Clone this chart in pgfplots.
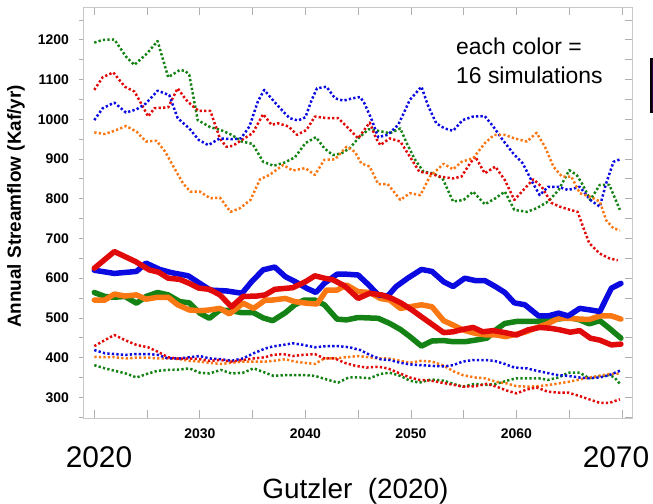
\documentclass[border=0pt]{standalone}
\usepackage{fontspec}
\setmainfont{Liberation Sans}
\usepackage{pgfplots}
\pgfplotsset{compat=1.18}
\definecolor{cblue}{RGB}{10,10,225}
\definecolor{cred}{RGB}{225,10,10}
\definecolor{cgreen}{RGB}{20,130,20}
\definecolor{corange}{RGB}{250,120,20}
\definecolor{framegray}{RGB}{200,200,200}
\definecolor{tickgray}{RGB}{175,175,175}
\definecolor{boxpurple}{RGB}{45,10,60}
\begin{document}
\begin{tikzpicture}
\useasboundingbox (-83bp,-86bp) rectangle (570bp,418bp);
\pgfplotsset{
  common/.style={
    scale only axis, width=549bp, height=410.7bp,
    at={(0,0)}, anchor=south west,
    xmin=2018.93, xmax=2070.95, ymin=248, ymax=1282,
    axis line style={framegray, line width=0.8bp},
    every tick/.style={tickgray, line width=0.8bp},
    /pgf/number format/1000 sep={},
    /pgf/number format/assume math mode=true,
    clip=false,
  },
  dotl/.style={line width=2.5bp, dash pattern=on 2.3bp off 2.2bp, line join=round},
  thk/.style={line width=5.5bp, line join=round, line cap=round},
}
\begin{axis}[common,
  xtick=\empty,
  ytick={300,400,...,1200}, minor ytick={250,350,...,1250},
  ytick pos=left, ytick align=outside,
  major tick length=4.5bp, minor tick length=4.5bp,
  tick label style={font=\fontsize{14}{14}\selectfont\bfseries},
  yticklabel style={xshift=-6bp},
]
\end{axis}
\begin{axis}[common,
  xtick=\empty,
  ytick={300,400,...,1200}, minor ytick={250,350,...,1250},
  yticklabels={}, ytick pos=right, ytick align=inside,
  major tick length=7bp, minor tick length=7bp,
]
\end{axis}
\begin{axis}[common,
  xtick={2020,2025,...,2070},
  xticklabels={,,2030,,2040,,2050,,2060,,},
  xtick pos=both, xtick align=inside, major tick length=8bp,
  ytick=\empty,
  tick label style={font=\fontsize{14}{14}\selectfont\bfseries},
  xticklabel style={yshift=-7bp},
]
% upper dotted
\addplot[dotl, cgreen] coordinates {(2020,1193)(2020.8,1200)(2021.9,1201)(2023,1158)(2023.8,1137)(2025,1166)(2026,1197)(2027,1106)(2028.1,1124)(2028.6,1122)(2029,1112)(2029.8,998)(2031,980)(2032,973)(2033,961)(2034,944)(2035,938)(2036,893)(2037,883)(2038,891)(2039,904)(2040,940)(2041,955)(2041.8,927)(2042.6,910)(2043.4,914)(2044.2,927)(2045,952)(2046,975)(2046.9,971)(2048,965)(2049,977)(2049.6,940)(2050.4,898)(2051.2,868)(2052.1,864)(2053,851)(2054,793)(2055,797)(2055.9,818)(2057,786)(2058,801)(2058.9,818)(2059.8,772)(2061,767)(2061.9,776)(2063,793)(2064,822)(2065,872)(2065.7,860)(2066.2,839)(2067,797)(2067.9,835)(2068.8,835)(2069.8,772)};
\addplot[dotl, cred] coordinates {(2020,1074)(2020.8,1106)(2021.8,1118)(2022.9,1082)(2023.8,1070)(2024.6,1032)(2025.1,1007)(2025.7,1028)(2027,1030)(2027.9,1078)(2028.7,1049)(2029.2,1036)(2029.9,1021)(2031,1021)(2031.9,952)(2032.5,931)(2033.1,933)(2034.1,950)(2035,965)(2036,1013)(2036.8,986)(2037.4,990)(2038.4,982)(2039.2,961)(2040.1,973)(2040.9,1007)(2042,1003)(2043.1,1003)(2044.1,977)(2045,952)(2046.1,992)(2046.7,952)(2047.1,935)(2048,952)(2049,944)(2049.9,906)(2050.8,868)(2051.8,864)(2052.7,856)(2054,851)(2054.8,856)(2055.6,889)(2056.1,906)(2057,864)(2058,881)(2058.9,847)(2059.8,797)(2060.8,826)(2061.6,849)(2062.4,830)(2063.3,790)(2064.1,780)(2065.1,772)(2065.8,767)(2066.3,730)(2066.9,688)(2067.9,662)(2068.8,650)(2069.6,645)};
\addplot[dotl, cblue] coordinates {(2020,998)(2020.8,1028)(2021.9,1042)(2023,1017)(2024,1025)(2024.9,1040)(2026,1072)(2027.1,1061)(2027.9,1003)(2029,977)(2029.9,948)(2030.8,935)(2031.9,952)(2033,950)(2033.9,952)(2034.7,982)(2035.5,1045)(2036.1,1074)(2036.9,1049)(2037.6,1028)(2038.5,1003)(2039.3,997)(2040,1005)(2040.6,1049)(2041.1,1078)(2042,1082)(2042.8,1053)(2043.6,1047)(2044.5,1053)(2045.2,1056)(2045.6,1040)(2046.3,998)(2046.9,955)(2047.8,961)(2048.8,986)(2049.9,1049)(2051,1082)(2051.6,1036)(2052.4,990)(2053.2,977)(2054,971)(2054.9,998)(2055.9,1007)(2057,1008)(2057.8,982)(2058.7,948)(2059.7,914)(2060.6,889)(2061.4,847)(2062.2,809)(2063,830)(2064,830)(2064.9,822)(2066,830)(2067,797)(2067.9,780)(2068.5,839)(2069.2,893)(2069.8,899)};
\addplot[dotl, corange] coordinates {(2020,967)(2021,963)(2021.9,971)(2023,983)(2024,969)(2024.9,944)(2025.9,946)(2026.7,919)(2027.5,881)(2028.4,839)(2029.1,818)(2030,818)(2031,801)(2031.9,803)(2032.9,767)(2033.8,776)(2034.8,797)(2035.7,849)(2036.6,860)(2037.9,885)(2038.8,871)(2040,877)(2040.9,860)(2041.8,898)(2042.8,899)(2043.9,931)(2044.7,918)(2045.3,889)(2046.1,881)(2046.9,837)(2047.8,837)(2049,797)(2049.9,814)(2050.9,809)(2051.8,856)(2053.1,888)(2054,874)(2054.8,893)(2055.9,902)(2057,940)(2057.9,961)(2058.9,961)(2059.8,952)(2061,944)(2061.9,966)(2062.7,931)(2063.5,881)(2064.3,856)(2065.2,856)(2066,814)(2067,805)(2067.9,793)(2068.5,746)(2069.2,725)(2069.8,721)};
% lower dotted
\addplot[dotl, cgreen] coordinates {(2020,381)(2021,373)(2021.9,367)(2023,360)(2024,350)(2025.1,360)(2026,367)(2027,369)(2028.1,370)(2029,373)(2030,362)(2030.9,360)(2032,369)(2033,360)(2034.1,362)(2035.1,373)(2036.2,362)(2037,354)(2038.1,356)(2039,356)(2039.9,356)(2040.9,354)(2042,345)(2043.1,337)(2044.1,350)(2045.2,350)(2046.1,348)(2047.1,359)(2048,362)(2049,354)(2049.9,342)(2050.8,337)(2051.9,345)(2053.1,342)(2054,334)(2054.9,327)(2056.1,334)(2057,331)(2058.1,334)(2059.1,342)(2060,348)(2061.1,348)(2062.1,348)(2063,344)(2064,350)(2064.9,362)(2066,362)(2066.9,348)(2067.9,354)(2068.8,356)(2069.3,350)(2069.8,334)};
\addplot[dotl, corange] coordinates {(2020,402)(2021,401)(2021.9,401)(2023,398)(2024,400)(2025.1,400)(2026,398)(2027,398)(2028.1,396)(2029,392)(2030,390)(2030.9,387)(2032,384)(2033,387)(2034.1,390)(2035.1,390)(2036.2,390)(2037,392)(2038.1,396)(2039,390)(2039.9,387)(2040.9,384)(2041.8,398)(2042.8,398)(2043.9,401)(2045,404)(2046,401)(2046.9,398)(2047.8,398)(2049,392)(2049.9,387)(2051,392)(2052,390)(2053.1,380)(2054,366)(2054.9,356)(2056.1,350)(2057,348)(2058.1,339)(2059.1,335)(2060,328)(2061,327)(2062,328)(2063,331)(2064,335)(2064.9,339)(2066,345)(2066.9,350)(2067.9,354)(2068.8,359)(2069.8,360)};
\addplot[dotl, cblue] coordinates {(2020,419)(2021,411)(2021.9,409)(2023,407)(2024,409)(2025.1,409)(2026,407)(2027,398)(2028.1,398)(2029,401)(2030,404)(2030.9,398)(2032,396)(2033,392)(2034.1,398)(2035.1,411)(2036.2,423)(2036.9,428)(2037.9,432)(2038.8,436)(2039.8,432)(2040.9,426)(2042,429)(2043.1,429)(2044.2,426)(2045.2,419)(2046.1,407)(2047.1,396)(2048,394)(2049,387)(2049.9,383)(2051,381)(2052.1,379)(2053.2,378)(2054,381)(2054.9,390)(2055.9,394)(2057,394)(2057.9,392)(2058.9,384)(2059.8,375)(2061,373)(2061.9,367)(2062.8,362)(2063.9,356)(2064.9,354)(2066,350)(2066.9,348)(2067.9,350)(2068.8,356)(2069.8,367)};
\addplot[dotl, cred] coordinates {(2020,429)(2021,444)(2021.9,457)(2023,443)(2024,432)(2025.1,426)(2026,415)(2027,401)(2028.1,397)(2029,398)(2030,396)(2030.9,392)(2032,394)(2033,390)(2034.1,394)(2035.1,398)(2036.2,401)(2036.9,407)(2037.9,409)(2038.8,404)(2039.8,407)(2040.9,409)(2041.8,398)(2042.8,398)(2043.7,387)(2044.8,379)(2045.8,375)(2046.9,377)(2047.8,373)(2048.8,362)(2049.9,350)(2050.8,344)(2051.9,342)(2053.1,336)(2054,332)(2054.9,327)(2056.1,328)(2057.2,334)(2058.1,327)(2059.1,317)(2060,310)(2061,320)(2061.9,325)(2063,314)(2064,312)(2064.9,312)(2066,303)(2066.9,295)(2067.9,286)(2068.8,286)(2069.8,295)};
% thick lines
\addplot[thk, cgreen] coordinates {(2020,564)(2021,554)(2021.9,552)(2022.9,554)(2024,537)(2024.9,554)(2026,564)(2027,558)(2028.1,541)(2029,538)(2030,512)(2030.9,499)(2031.9,520)(2033,518)(2034,513)(2035.1,513)(2036,500)(2036.9,493)(2038.1,513)(2039,533)(2039.9,545)(2040.9,545)(2041.8,533)(2043,497)(2043.9,495)(2045,501)(2046.9,499)(2048,486)(2049,471)(2049.9,453)(2051,429)(2052,442)(2053.1,443)(2054,440)(2055.1,440)(2056.1,444)(2057.2,449)(2058.1,471)(2058.9,486)(2060,491)(2060.9,491)(2061.9,491)(2062.8,495)(2063.9,497)(2065,501)(2066,495)(2066.9,485)(2067.9,493)(2068.8,474)(2069.9,449)};
\addplot[thk, corange] coordinates {(2020,545)(2021,545)(2021.9,560)(2022.9,555)(2024,558)(2024.9,547)(2026,552)(2027,552)(2027.9,533)(2029,520)(2030,518)(2030.9,520)(2031.9,524)(2032.8,510)(2034.1,537)(2035.1,524)(2036.2,545)(2036.9,545)(2038.1,549)(2039,541)(2040.1,537)(2041.1,535)(2042,570)(2043,570)(2043.9,583)(2045,566)(2046.1,564)(2047.1,549)(2048,545)(2049,524)(2049.9,528)(2051,533)(2052,528)(2053.1,493)(2054,482)(2054.9,470)(2056.1,461)(2057.2,457)(2058.1,457)(2059,453)(2060,459)(2060.9,465)(2062,476)(2063,486)(2064,499)(2065,499)(2066,497)(2066.9,496)(2067.9,505)(2069,505)(2069.9,497)};
\addplot[thk, cblue] coordinates {(2020,620)(2021.9,612)(2024,617)(2024.9,638)(2026.2,622)(2027.3,614)(2028.9,606)(2030,587)(2031,570)(2032.5,568)(2034,562)(2034.9,591)(2036,621)(2037.1,628)(2038.1,604)(2039.2,589)(2040.1,575)(2041,564)(2041.8,587)(2043,610)(2043.9,610)(2045,608)(2046,583)(2046.9,558)(2047.8,555)(2048.6,579)(2049.7,600)(2051,622)(2052,617)(2053.1,591)(2054,579)(2055.1,600)(2056.1,594)(2057,594)(2058,579)(2058.9,564)(2059.8,538)(2060.8,533)(2062.1,505)(2063,505)(2064,512)(2064.9,505)(2066,524)(2067,520)(2067.9,516)(2069,575)(2069.9,587)};
\addplot[thk, cred] coordinates {(2020,625)(2021.9,667)(2023.9,642)(2025.2,621)(2026.1,615)(2027,600)(2028.1,597)(2029,587)(2029.9,575)(2030.9,572)(2031.9,558)(2033,528)(2034.1,554)(2035.4,555)(2036.2,558)(2037.1,572)(2038.8,576)(2040,591)(2040.9,606)(2041.8,600)(2042.6,596)(2043.7,581)(2045,549)(2046.1,562)(2047.2,558)(2048.2,549)(2049.1,537)(2050.1,520)(2051.2,499)(2052.1,482)(2053.1,463)(2054,465)(2054.9,471)(2055.9,476)(2056.8,465)(2057.8,468)(2058.9,463)(2060,457)(2061.1,470)(2062.2,476)(2063.2,474)(2064.1,470)(2065.1,464)(2066,468)(2067,449)(2067.9,444)(2069,432)(2069.9,434)};
\end{axis}
\node[rotate=90, font=\fontsize{19}{19}\selectfont\bfseries] at (-67bp,211.5bp) {Annual Streamflow (Kaf/yr)};
\node[anchor=base, inner sep=0, font=\fontsize{30}{30}\selectfont] at (16bp,-49bp) {2020};
\node[anchor=base, inner sep=0, font=\fontsize{30}{30}\selectfont] at (533bp,-49bp) {2070};
\node[anchor=base, inner sep=0, font=\fontsize{28}{28}\selectfont] at (272.5bp,-80bp) {Gutzler\ \ (2020)};
\node[anchor=base west, inner sep=0, font=\fontsize{23}{23}\selectfont] at (373bp,363bp) {each color =};
\node[anchor=base west, inner sep=0, font=\fontsize{23}{23}\selectfont] at (373bp,334bp) {16 simulations};
\draw[black, line width=1.5bp, fill=boxpurple] (567.75bp,306bp) rectangle (580bp,359bp);
\end{tikzpicture}
\end{document}
